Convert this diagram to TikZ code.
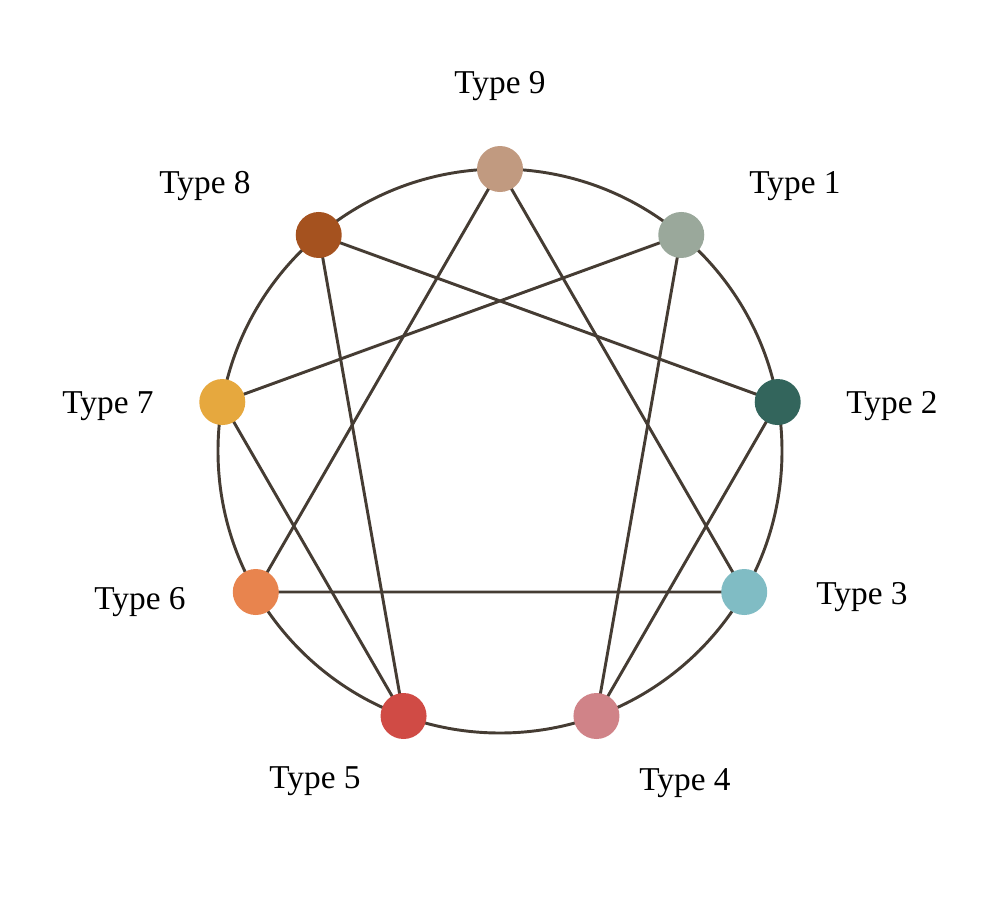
\documentclass[tikz,border=0pt]{standalone}
\usepackage{fontspec}
\setmainfont{Liberation Serif}
\definecolor{lc}{HTML}{453C33}
\definecolor{c9}{HTML}{C19A80}
\definecolor{c1}{HTML}{9AA89B}
\definecolor{c2}{HTML}{33655C}
\definecolor{c3}{HTML}{80BCC4}
\definecolor{c4}{HTML}{D08388}
\definecolor{c5}{HTML}{D04B45}
\definecolor{c6}{HTML}{E8844E}
\definecolor{c7}{HTML}{E6A83E}
\definecolor{c8}{HTML}{A5521F}
\begin{document}
\begin{tikzpicture}[x=0.75pt,y=-0.75pt,
  ln/.style={draw=lc,line width=2.2pt},
  dot/.style={circle,minimum size=34.5pt,inner sep=0pt},
  lab/.style={font=\fontsize{25}{30}\selectfont}]
\useasboundingbox (0,0) rectangle (1000,900);
\def\cx{500}\def\cy{451}\def\R{282}
\draw[ln] (\cx,\cy) circle (\R);
\foreach \n/\a in {9/90,1/50,2/10,3/-30,4/-70,5/-110,6/-150,7/170,8/130}{
  \coordinate (p\n) at ({\cx+\R*cos(\a)},{\cy-\R*sin(\a)});
}
\draw[ln] (p9)--(p3)--(p6)--cycle;
\draw[ln] (p1)--(p4)--(p2)--(p8)--(p5)--(p7)--cycle;
\foreach \n in {1,...,9}{\node[dot,fill=c\n] (d\n) at (p\n) {};}
\node[lab] (l9) at (500,86) {Type 9};
\node[lab] (l1) at (795,186) {Type 1};
\node[lab] (l2) at (892,406) {Type 2};
\node[lab] (l3) at (862,597) {Type 3};
\node[lab] (l4) at (685,783) {Type 4};
\node[lab] (l5) at (315,781) {Type 5};
\node[lab] (l6) at (140,602) {Type 6};
\node[lab] (l7) at (108,406) {Type 7};
\node[lab] (l8) at (205,186) {Type 8};
\end{tikzpicture}
\end{document}
